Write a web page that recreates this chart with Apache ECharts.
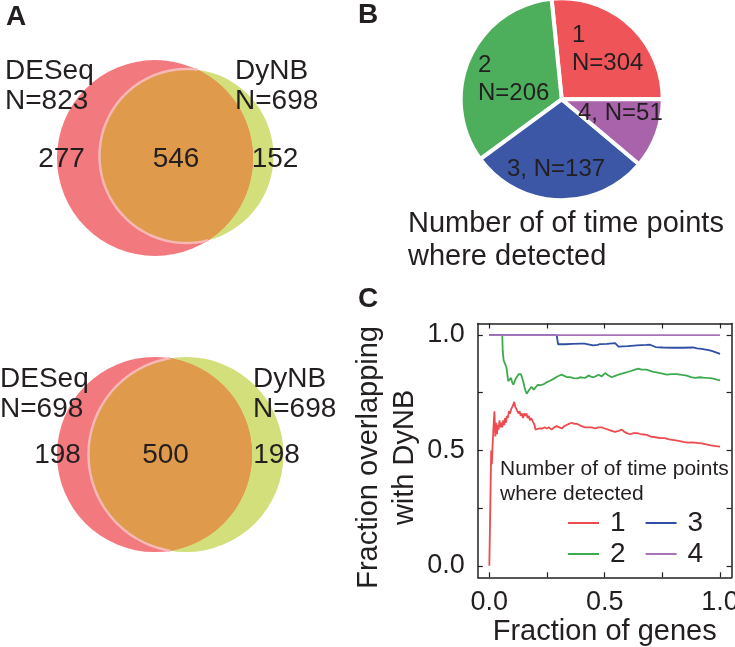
<!DOCTYPE html>
<html>
<head>
<meta charset="utf-8">
<script src="https://cdn.jsdelivr.net/npm/echarts@6/dist/echarts.min.js"></script>
<style>
html, body { margin: 0; padding: 0; background: #fff; }
#main { width: 735px; height: 647px; }
</style>
</head>
<body>
<div id="main"></div>
<script>
// A: venn diagrams
const vennSets = ['DESeq', 'DyNB'];
const vennTopTotals = [823, 698];
const vennTopParts = [277, 546, 152];
const vennBottomTotals = [698, 698];
const vennBottomParts = [198, 500, 198];

// B: number of time points where detected
const pieNames = ['1', '2', '3', '4'];
const pieCounts = [304, 206, 137, 51];
const pieShares = [26.6, 33.5, 28.8, 11.1]; // slice sizes as drawn, %

// C: fraction overlapping with DyNB vs fraction of genes
const x1 = [0, 0.004, 0.008, 0.011, 0.014, 0.018, 0.022, 0.026, 0.030, 0.033, 0.037, 0.040, 0.044, 0.048, 0.052, 0.056, 0.060, 0.064, 0.068, 0.072, 0.076, 0.080, 0.085, 0.090, 0.095, 0.100, 0.104, 0.108, 0.112, 0.117, 0.121, 0.126, 0.131, 0.136, 0.141, 0.146, 0.151, 0.156, 0.161, 0.166, 0.171, 0.176, 0.181, 0.186, 0.191, 0.196, 0.200, 0.206, 0.214, 0.222, 0.230, 0.240, 0.249, 0.258, 0.270, 0.281, 0.292, 0.303, 0.314, 0.325, 0.335, 0.345, 0.357, 0.368, 0.380, 0.390, 0.400, 0.415, 0.430, 0.444, 0.458, 0.473, 0.487, 0.500, 0.515, 0.530, 0.545, 0.560, 0.574, 0.585, 0.596, 0.610, 0.625, 0.640, 0.660, 0.682, 0.700, 0.720, 0.740, 0.760, 0.780, 0.800, 0.820, 0.840, 0.860, 0.880, 0.900, 0.920, 0.940, 0.960, 0.980, 1.0];
const y1 = [0, 0, 0.50, 0.44, 0.52, 0.60, 0.67, 0.56, 0.62, 0.57, 0.61, 0.59, 0.63, 0.60, 0.62, 0.60, 0.63, 0.61, 0.64, 0.62, 0.65, 0.64, 0.67, 0.66, 0.68, 0.69, 0.70, 0.71, 0.69, 0.68, 0.68, 0.66, 0.67, 0.65, 0.66, 0.64, 0.66, 0.65, 0.66, 0.64, 0.65, 0.63, 0.64, 0.64, 0.62, 0.61, 0.59, 0.59, 0.595, 0.59, 0.595, 0.60, 0.595, 0.60, 0.59, 0.60, 0.605, 0.60, 0.595, 0.605, 0.61, 0.615, 0.62, 0.615, 0.615, 0.61, 0.605, 0.60, 0.60, 0.60, 0.595, 0.60, 0.60, 0.595, 0.59, 0.585, 0.58, 0.585, 0.59, 0.58, 0.575, 0.57, 0.575, 0.575, 0.57, 0.567, 0.56, 0.557, 0.553, 0.553, 0.548, 0.545, 0.541, 0.537, 0.534, 0.535, 0.533, 0.530, 0.526, 0.522, 0.519, 0.516];
const x2 = [0, 0.056, 0.058, 0.062, 0.066, 0.070, 0.074, 0.078, 0.082, 0.085, 0.090, 0.094, 0.099, 0.104, 0.110, 0.115, 0.120, 0.127, 0.132, 0.137, 0.142, 0.147, 0.152, 0.157, 0.162, 0.167, 0.173, 0.178, 0.183, 0.188, 0.193, 0.199, 0.205, 0.210, 0.215, 0.221, 0.227, 0.234, 0.241, 0.248, 0.256, 0.263, 0.270, 0.278, 0.285, 0.295, 0.303, 0.311, 0.320, 0.328, 0.335, 0.343, 0.350, 0.357, 0.365, 0.372, 0.382, 0.393, 0.404, 0.415, 0.422, 0.430, 0.440, 0.451, 0.462, 0.473, 0.480, 0.487, 0.495, 0.502, 0.515, 0.530, 0.548, 0.567, 0.590, 0.610, 0.628, 0.646, 0.660, 0.682, 0.697, 0.711, 0.725, 0.740, 0.755, 0.769, 0.790, 0.812, 0.834, 0.856, 0.874, 0.892, 0.913, 0.928, 0.942, 0.957, 0.971, 0.986, 1.0];
const y2 = [1, 1, 0.93, 0.89, 0.89, 0.87, 0.86, 0.862, 0.80, 0.792, 0.805, 0.814, 0.795, 0.785, 0.800, 0.812, 0.820, 0.830, 0.835, 0.830, 0.815, 0.799, 0.775, 0.758, 0.746, 0.752, 0.763, 0.770, 0.775, 0.770, 0.763, 0.772, 0.778, 0.784, 0.788, 0.783, 0.778, 0.786, 0.792, 0.795, 0.800, 0.802, 0.806, 0.810, 0.814, 0.820, 0.825, 0.828, 0.825, 0.821, 0.818, 0.814, 0.818, 0.821, 0.813, 0.806, 0.812, 0.817, 0.815, 0.814, 0.820, 0.825, 0.820, 0.817, 0.822, 0.828, 0.824, 0.821, 0.825, 0.835, 0.826, 0.817, 0.824, 0.831, 0.837, 0.843, 0.849, 0.854, 0.850, 0.850, 0.845, 0.840, 0.838, 0.835, 0.832, 0.828, 0.831, 0.831, 0.827, 0.824, 0.818, 0.814, 0.817, 0.815, 0.814, 0.813, 0.811, 0.807, 0.804];
const x3 = [0, 0.292, 0.298, 0.330, 0.360, 0.395, 0.412, 0.416, 0.450, 0.470, 0.480, 0.510, 0.545, 0.552, 0.560, 0.600, 0.640, 0.680, 0.697, 0.704, 0.720, 0.753, 0.800, 0.840, 0.883, 0.900, 0.920, 0.944, 0.960, 0.970, 0.985, 1.0];
const y3 = [1, 1, 0.960, 0.960, 0.962, 0.963, 0.963, 0.955, 0.955, 0.957, 0.961, 0.962, 0.965, 0.958, 0.950, 0.952, 0.955, 0.957, 0.958, 0.952, 0.948, 0.946, 0.945, 0.945, 0.946, 0.942, 0.940, 0.936, 0.932, 0.929, 0.924, 0.918];
const x4 = [0, 1];
const y4 = [1, 1];

const TXT = '#231F20';
const FONT = 'Liberation Sans';

// circle geometry: [cx, cy, r] in venn grid units
const vennTopCircles = [[155, 158, 98], [186.5, 156, 87]];
const vennBottomCircles = [[154.5, 454.5, 97.5], [186, 454.5, 97.5]];

function zip(xs, ys) {
    return xs.map((x, i) => [x, ys[i]]);
}

function arcPoints(api, c, a0, a1) {
    const pts = [];
    const n = 90;
    for (let i = 0; i <= n; i++) {
        const a = a0 + (a1 - a0) * i / n;
        pts.push(api.coord([c[0] + c[2] * Math.cos(a), c[1] + c[2] * Math.sin(a)]));
    }
    return pts;
}

function renderVenn(params, api) {
    const c1 = [api.value(0), api.value(1), api.value(2)];
    const c2 = [api.value(3), api.value(4), api.value(5)];
    const dx = c2[0] - c1[0], dy = c2[1] - c1[1];
    const d = Math.hypot(dx, dy);
    const a = (c1[2] * c1[2] - c2[2] * c2[2] + d * d) / (2 * d);
    const al = Math.acos(a / c1[2]);
    const be = Math.acos((d - a) / c2[2]);
    const phi = Math.atan2(dy, dx);
    const psi = phi + Math.PI;
    const rim = arcPoints(api, c2, psi - be, psi + be);
    const lens = arcPoints(api, c1, phi - al, phi + al).concat(rim);
    const circ = (c, color) => {
        const p = api.coord([c[0], c[1]]);
        return { type: 'circle', shape: { cx: p[0], cy: p[1], r: api.size([c[2], c[2]])[0] }, style: { fill: color } };
    };
    return {
        type: 'group',
        children: [
            circ(c2, '#D3DF7A'),
            circ(c1, '#F2797D'),
            { type: 'polygon', shape: { points: lens }, style: { fill: '#DF9B4B' } },
            { type: 'polyline', shape: { points: rim }, style: { stroke: '#F7B8B6', lineWidth: 2.5, fill: null } }
        ]
    };
}

function vennLabels(totals, parts, spots) {
    const texts = [
        vennSets[0] + '\nN=' + totals[0],
        vennSets[1] + '\nN=' + totals[1],
        String(parts[0]), String(parts[1]), String(parts[2])
    ];
    return {
        type: 'custom',
        xAxisIndex: 0,
        yAxisIndex: 0,
        silent: true,
        data: spots,
        renderItem: (params, api) => {
            const p = api.coord([api.value(0), api.value(1)]);
            const i = params.dataIndex;
            return {
                type: 'text',
                x: p[0], y: p[1],
                style: {
                    text: texts[i], fill: TXT, font: '28px "' + FONT + '"',
                    lineHeight: 30, align: i < 2 ? 'left' : 'center', verticalAlign: 'middle'
                }
            };
        }
    };
}

const lineColors = ['#EE4A4F', '#3DAA4D', '#2E4FA3', '#A774BA'];
const lineSeries = [[x1, y1], [x2, y2], [x3, y3], [x4, y4]].map((s, i) => ({
    name: pieNames[i],
    type: 'line',
    xAxisIndex: 1,
    yAxisIndex: 1,
    data: zip(s[0], s[1]),
    showSymbol: false,
    symbol: 'none',
    color: lineColors[i],
    lineStyle: { width: 1.8, color: lineColors[i] },
    z: 3 + i
}));

const pieLabelSpots = [[572, 49], [478, 79], [507, 169], [578, 113]];

const ticks = [0, 0.25, 0.5, 0.75, 1];
const axisBase = {
    type: 'value', min: -0.05, max: 1.05,
    axisLine: { show: true, onZero: false, lineStyle: { color: TXT, width: 1.5 } },
    axisTick: { show: true, inside: true, length: 5, customValues: ticks, lineStyle: { color: TXT, width: 1.2 } },
    splitLine: { show: false }
};
const labelStyle = {
    customValues: [0, 0.5, 1], formatter: v => v.toFixed(1),
    fontSize: 27, color: TXT, fontFamily: FONT
};

const myChart = echarts.init(document.getElementById('main'), null, { renderer: 'canvas' });
myChart.setOption({
    animation: false,
    textStyle: { fontFamily: FONT, color: TXT },
    title: [
        { text: 'A', left: 6, top: 3, padding: 0, textStyle: { fontSize: 28, fontWeight: 'bold', color: TXT } },
        { text: 'B', left: 358, top: 1, padding: 0, textStyle: { fontSize: 28, fontWeight: 'bold', color: TXT } },
        { text: 'C', left: 358, top: 285, padding: 0, textStyle: { fontSize: 28, fontWeight: 'bold', color: TXT } },
        { text: 'Number of of time points\nwhere detected', left: 408, top: 207, padding: 0,
          textStyle: { fontSize: 29, lineHeight: 33, fontWeight: 'normal', color: TXT } },
        { text: 'Number of of time points\nwhere detected', left: 500, top: 457, padding: 0,
          textStyle: { fontSize: 21, lineHeight: 25, fontWeight: 'normal', color: TXT } }
    ],
    legend: [
        { data: ['1', '3'], left: 568, top: 509 },
        { data: ['2', '4'], left: 568, top: 540 }
    ].map(l => Object.assign({
        icon: 'rect', itemWidth: 31, itemHeight: 2, itemGap: 20, padding: 0,
        selectedMode: false,
        textStyle: { fontSize: 28, color: TXT, padding: [0, 0, 0, 6] }
    }, l)),
    grid: [
        { left: 0, top: 0, width: 300, height: 600, show: false, containLabel: false, outerBoundsMode: 'none' },
        { left: 477.8, top: 323.5, width: 253.8, height: 253.8, containLabel: false, outerBoundsMode: 'none' }
    ],
    xAxis: [
        { type: 'value', gridIndex: 0, min: 0, max: 300, show: false },
        Object.assign({}, axisBase, {
            gridIndex: 1, position: 'bottom', axisLabel: Object.assign({ margin: 12 }, labelStyle),
            name: 'Fraction of genes', nameLocation: 'middle', nameGap: 40,
            nameTextStyle: { fontSize: 29, color: TXT }
        }),
        Object.assign({}, axisBase, { gridIndex: 1, position: 'top', axisLabel: { show: false } })
    ],
    yAxis: [
        { type: 'value', gridIndex: 0, min: 0, max: 600, inverse: true, show: false },
        Object.assign({}, axisBase, {
            gridIndex: 1, position: 'left', axisLabel: Object.assign({ margin: 13 }, labelStyle),
            name: 'Fraction overlapping\nwith DyNB', nameLocation: 'middle', nameGap: 55, nameRotate: 90,
            nameTextStyle: { fontSize: 29, lineHeight: 36, color: TXT, padding: [0, 14, 0, 0] }
        }),
        Object.assign({}, axisBase, { gridIndex: 1, position: 'right', axisLabel: { show: false } })
    ],
    series: [
        { type: 'custom', xAxisIndex: 0, yAxisIndex: 0, silent: true,
          data: [vennTopCircles[0].concat(vennTopCircles[1])], renderItem: renderVenn },
        { type: 'custom', xAxisIndex: 0, yAxisIndex: 0, silent: true,
          data: [vennBottomCircles[0].concat(vennBottomCircles[1])], renderItem: renderVenn },
        vennLabels(vennTopTotals, vennTopParts, [[5, 86], [235, 86], [61.5, 159], [176, 159], [275, 159]]),
        vennLabels(vennBottomTotals, vennBottomParts, [[0, 394], [253, 394], [57.5, 455], [165.5, 455], [276.5, 455]]),
        {
            type: 'pie',
            center: [561.7, 99.3],
            radius: 101,
            startAngle: 0,
            clockwise: false,
            silent: true,
            data: pieNames.map((n, i) => ({ name: n, value: pieShares[i] })),
            color: ['#EF5558', '#4DAF5C', '#3B57A6', '#A963AB'],
            itemStyle: { borderColor: '#fff', borderWidth: 4 },
            label: {
                show: true, position: 'inside', fontSize: 24, lineHeight: 28, color: TXT,
                fontFamily: FONT,
                formatter: p => p.dataIndex < 2
                    ? p.name + '\nN=' + pieCounts[p.dataIndex]
                    : p.name + ', N=' + pieCounts[p.dataIndex]
            },
            labelLine: { show: false },
            labelLayout: p => ({
                x: pieLabelSpots[p.dataIndex][0], y: pieLabelSpots[p.dataIndex][1],
                align: 'left', verticalAlign: 'middle'
            })
        }
    ].concat(lineSeries)
});
</script>
</body>
</html>
